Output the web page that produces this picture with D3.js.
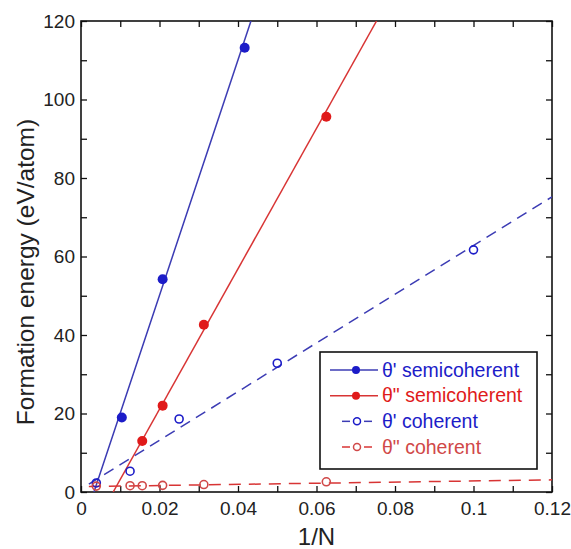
<!DOCTYPE html>
<html lang="en">
<head>
  <meta charset="UTF-8">
  <title>Formation energy vs 1/N</title>
  <script src="https://cdn.jsdelivr.net/npm/d3@7"></script>
  <style>
    body { margin: 0; background: #fff; }
    text { font-family: "Liberation Sans", Arial, sans-serif; }
  </style>
</head>
<body>
  <div id="chart"></div>

  <script>
    // data
    const blueSemiX = [0.0104, 0.0208, 0.0417];
    const blueSemiY = [19.0, 54.2, 113.2];
    const redSemiX = [0.0156, 0.0208, 0.0313, 0.0625];
    const redSemiY = [13.0, 22.0, 42.6, 95.6];
    const blueCohX = [0.0039, 0.0125, 0.025, 0.05, 0.1];
    const blueCohY = [2.3, 5.3, 18.6, 32.8, 61.7];
    const redCohX = [0.0039, 0.0125, 0.0156, 0.0208, 0.0313, 0.0625];
    const redCohY = [1.5, 1.6, 1.6, 1.7, 1.9, 2.6];

    // fitted lines (end points)
    const blueSemiFitX = [0.0033, 0.0433], blueSemiFitY = [0, 120];
    const redSemiFitX = [0.0082, 0.0753], redSemiFitY = [0, 120];
    const blueCohFitX = [0.002, 0.12], blueCohFitY = [2.0, 75.2];
    const redCohFitX = [0.002, 0.12], redCohFitY = [1.4, 3.1];

    const xTicks = [0, 0.02, 0.04, 0.06, 0.08, 0.1, 0.12];
    const yTicks = [0, 20, 40, 60, 80, 100, 120];

    const width = 571, height = 549;
    const margin = {top: 21, right: 19, bottom: 57, left: 81};
    const iw = width - margin.left - margin.right,
      ih = height - margin.top - margin.bottom;

    const blue = "#1c1cc8", blueLine = "#3c3cb4";
    const red = "#e01a1a", redLine = "#d83434", redOpen = "#d04848";

    const series = [
      {name: "\u03b8' semicoherent", x: blueSemiX, y: blueSemiY, fx: blueSemiFitX, fy: blueSemiFitY,
        color: blue, line: blueLine, filled: true, dash: null},
      {name: "\u03b8\" semicoherent", x: redSemiX, y: redSemiY, fx: redSemiFitX, fy: redSemiFitY,
        color: red, line: redLine, filled: true, dash: null},
      {name: "\u03b8' coherent", x: blueCohX, y: blueCohY, fx: blueCohFitX, fy: blueCohFitY,
        color: blue, line: blueLine, filled: false, dash: "11,7"},
      {name: "\u03b8\" coherent", x: redCohX, y: redCohY, fx: redCohFitX, fy: redCohFitY,
        color: redOpen, line: redLine, filled: false, dash: "12,8"}
    ];

    const svg = d3.select('#chart')
      .append('svg')
        .attr('width', width)
        .attr('height', height);

    const g = svg.append('g')
      .attr('transform', `translate(${margin.left},${margin.top})`);

    const x = d3.scaleLinear().domain([0, 0.12]).range([0, iw]);
    const y = d3.scaleLinear().domain([0, 120]).range([ih, 0]);

    g.append('clipPath').attr('id', 'clip')
      .append('rect').attr('width', iw).attr('height', ih);

    // axes, ticks inward on all four sides
    const minorX = d3.range(0, 0.1201, 0.01);
    const minorY = d3.range(0, 121, 10);

    g.append('g')
      .attr('transform', `translate(0,${ih})`)
      .call(d3.axisBottom(x).tickValues(minorX).tickSize(-6).tickFormat(''));
    g.append('g')
      .call(d3.axisTop(x).tickValues(minorX).tickSize(-6).tickFormat(''));
    g.append('g')
      .call(d3.axisLeft(y).tickValues(minorY).tickSize(-6).tickFormat(''));
    g.append('g')
      .attr('transform', `translate(${iw},0)`)
      .call(d3.axisRight(y).tickValues(minorY).tickSize(-6).tickFormat(''));

    g.selectAll('.domain').remove();
    g.selectAll('.tick line').attr('stroke', '#111').attr('stroke-width', 1.3);

    // tick labels
    g.append('g')
      .attr('transform', `translate(0,${ih})`)
      .call(d3.axisBottom(x).tickValues(xTicks).tickSize(0).tickPadding(23)
        .tickFormat(d => d3.format('')(+d.toFixed(2))))
      .call(a => a.select('.domain').remove())
      .selectAll('text')
        .attr('font-size', 19).attr('fill', '#222').attr('dy', 0);

    g.append('g')
      .call(d3.axisLeft(y).tickValues(yTicks).tickSize(0).tickPadding(6))
      .call(a => a.select('.domain').remove())
      .selectAll('text')
        .attr('font-size', 19).attr('fill', '#222');

    g.append('rect')
      .attr('width', iw).attr('height', ih)
      .attr('fill', 'none').attr('stroke', '#111').attr('stroke-width', 1.6);

    // axis titles
    svg.append('text')
      .attr('x', margin.left + iw / 2).attr('y', 545)
      .attr('text-anchor', 'middle')
      .attr('font-size', 24).attr('fill', '#222')
      .text('1/N');

    svg.append('text')
      .attr('transform', 'translate(34,272) rotate(-90)')
      .attr('text-anchor', 'middle')
      .attr('font-size', 24.5).attr('fill', '#222')
      .text('Formation energy (eV/atom)');

    const plot = g.append('g').attr('clip-path', 'url(#clip)');

    const line = d3.line().x(d => x(d[0])).y(d => y(d[1]));

    series.forEach(s => {
      plot.append('path')
        .datum(d3.zip(s.fx, s.fy))
        .attr('d', line)
        .attr('fill', 'none')
        .attr('stroke', s.line)
        .attr('stroke-width', 1.5)
        .attr('stroke-dasharray', s.dash);
    });

    series.forEach(s => {
      plot.append('g')
        .selectAll('circle')
        .data(d3.zip(s.x, s.y))
        .join('circle')
          .attr('cx', d => x(d[0]))
          .attr('cy', d => y(d[1]))
          .attr('r', s.filled ? 5 : 4)
          .attr('fill', s.filled ? s.color : 'none')
          .attr('stroke', s.color)
          .attr('stroke-width', s.filled ? 0 : 1.6);
    });

    // legend
    const lg = svg.append('g').attr('transform', 'translate(320,352)');
    lg.append('rect')
      .attr('width', 217).attr('height', 117)
      .attr('fill', '#fff').attr('stroke', '#111').attr('stroke-width', 1.6);

    const rowY = d3.scalePoint().domain(d3.range(series.length)).range([18, 95]);

    series.forEach((s, i) => {
      const row = lg.append('g').attr('transform', `translate(0,${rowY(i)})`);
      if (s.filled) {
        row.append('line')
          .attr('x1', 10).attr('x2', 58)
          .attr('stroke', s.line).attr('stroke-width', 1.5);
      } else {
        row.append('line').attr('x1', 22).attr('x2', 30)
          .attr('stroke', s.line).attr('stroke-width', 1.5);
        row.append('line').attr('x1', 44).attr('x2', 52)
          .attr('stroke', s.line).attr('stroke-width', 1.5);
      }
      row.append('circle')
        .attr('cx', s.filled ? 36 : 37)
        .attr('r', s.filled ? 4 : 3.5)
        .attr('fill', s.filled ? s.color : 'none')
        .attr('stroke', s.color)
        .attr('stroke-width', s.filled ? 0 : 1.5);
      row.append('text')
        .attr('x', 62).attr('dy', '0.35em')
        .attr('font-size', 19.5).attr('fill', s.color)
        .text(s.name);
    });
  </script>
</body>
</html>
